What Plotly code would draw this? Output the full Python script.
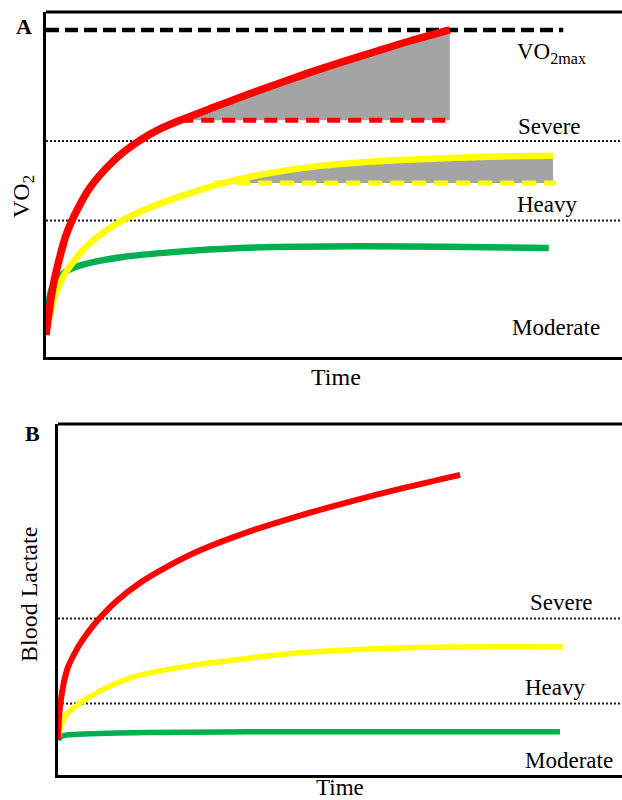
import plotly.graph_objects as go

W, H = 622, 800

# ---------------- Panel A: VO2 response (arbitrary units) ----------------
a_time_red = [0, 1.2, 2.4, 3.6, 5.4, 7.6, 10.6, 13.4, 16.3, 19.3, 23.3, 29.0,
              34.9, 40.6, 46.4, 51.6, 57.5, 63.2, 70.1]
a_vo2_red = [6.4, 20.3, 29.0, 35.9, 42.6, 49.0, 55.0, 59.3, 62.8, 65.7, 68.6,
             72.3, 76.0, 79.4, 82.8, 85.6, 88.7, 91.6, 94.8]
a_time_yellow = [0, 0.87, 1.74, 2.95, 4.69, 7.64, 13.37, 19.27, 25.0, 30.73,
                 37.15, 47.57, 61.46, 75.35, 88.02]
a_vo2_yellow = [7.0, 13.6, 18.6, 23.2, 27.5, 33.0, 39.7, 44.1, 47.5, 50.4,
                52.8, 55.4, 57.1, 58.0, 58.3]
a_time_green = [0, 0.52, 1.04, 1.91, 3.3, 4.69, 7.64, 13.37, 21.98, 33.68,
                54.0, 87.3]
a_vo2_green = [10.1, 16.5, 20.0, 22.6, 24.6, 25.8, 27.3, 29.0, 30.4, 31.6,
               32.1, 31.6]

a_vo2max = 94.8
a_vo2max_span = [0, 89.8]
a_red_base = 68.6            # level reached before the slow component
a_red_base_span = [23.3, 70.5]
a_yellow_base = 50.4
a_yellow_base_span = [29.2, 88.4]
a_thresholds = [39.6, 62.6]  # moderate/heavy, heavy/severe

# ---------------- Panel B: blood lactate (arbitrary units) ----------------
b_time_red = [0, 0.35, 1.6, 3.4, 5.4, 7.4, 10.5, 14.5, 19.3, 25.2, 34.0,
              42.9, 51.8, 60.6, 71.3]
b_lac_red = [10.0, 19.4, 29.9, 36.0, 40.8, 44.7, 49.7, 54.7, 59.3, 64.0,
             69.4, 73.9, 77.9, 81.5, 85.5]
b_time_yellow = [0, 0.53, 1.42, 3.9, 7.4, 13.3, 22.2, 34.0, 42.9, 60.6, 89.5]
b_lac_yellow = [10.0, 14.0, 17.1, 20.5, 23.9, 27.9, 30.8, 33.3, 34.8, 36.2,
                36.5]
b_time_green = [0, 0.7, 1.6, 10.5, 34.0, 89.0]
b_lac_green = [10.0, 11.1, 11.4, 12.0, 12.3, 12.3]
b_thresholds = [20.4, 44.6]

zone_labels = ["Moderate", "Heavy", "Severe"]

RED, YELLOW, GREEN = "#ff0000", "#ffff00", "#00b050"
GREY = "#a4a4a4"
FONT = "Liberation Serif, Times New Roman, serif"

fig = go.Figure()


def line(x, y, color, width, xa, ya, dash=None, shape="spline"):
    fig.add_trace(go.Scatter(
        x=x, y=y, mode="lines", xaxis=xa, yaxis=ya, hoverinfo="skip",
        line=dict(color=color, width=width, dash=dash, shape=shape),
        showlegend=False))


def slow_component(tx, vy, base, xa, ya):
    """Grey area between a curve and the level it had already reached."""
    pts = [(t, v) for t, v in zip(tx, vy) if v >= base - 0.3]
    t0, t1 = pts[0][0], pts[-1][0]
    fig.add_trace(go.Scatter(
        x=[t0, t1], y=[base, base], mode="lines", xaxis=xa, yaxis=ya,
        line=dict(width=0), hoverinfo="skip", showlegend=False))
    fig.add_trace(go.Scatter(
        x=[p[0] for p in pts], y=[p[1] for p in pts], mode="lines",
        xaxis=xa, yaxis=ya, fill="tonexty", fillcolor=GREY,
        line=dict(width=0, shape="spline"), hoverinfo="skip",
        showlegend=False))


# ---- Panel A
slow_component(a_time_red, a_vo2_red, a_red_base, "x", "y")
slow_component(a_time_yellow, a_vo2_yellow, a_yellow_base, "x", "y")
for thr in a_thresholds:
    line([0, 100], [thr, thr], "#1a1a1a", 2, "x", "y", dash="2px,2px",
         shape="linear")
line(a_vo2max_span, [a_vo2max] * 2, "black", 4.5, "x", "y",
     dash="13px,6px", shape="linear")
line(a_red_base_span, [a_red_base] * 2, RED, 5, "x", "y",
     dash="13px,8px", shape="linear")
line(a_yellow_base_span, [a_yellow_base] * 2, YELLOW, 5, "x", "y",
     dash="14px,8px", shape="linear")
line(a_time_green, a_vo2_green, GREEN, 6.5, "x", "y")
line(a_time_yellow, a_vo2_yellow, YELLOW, 6.5, "x", "y")
line(a_time_red, a_vo2_red, RED, 7.5, "x", "y")

# ---- Panel B
for thr in b_thresholds:
    line([0, 100], [thr, thr], "#1a1a1a", 2, "x2", "y2", dash="2px,2px",
         shape="linear")
line(b_time_green, b_lac_green, GREEN, 5.5, "x2", "y2")
line(b_time_yellow, b_lac_yellow, YELLOW, 5.5, "x2", "y2")
line(b_time_red, b_lac_red, RED, 6, "x2", "y2")

axis = dict(range=[0, 100], showgrid=False, zeroline=False, showticklabels=False,
            ticks="", showline=True, linecolor="black", linewidth=3,
            mirror=False, fixedrange=True)

fig.update_layout(
    width=W, height=H, margin=dict(l=0, r=0, t=0, b=0, pad=0),
    paper_bgcolor="white", plot_bgcolor="white", showlegend=False,
    xaxis=dict(axis, domain=[46 / W, 1], anchor="y"),
    yaxis=dict(axis, domain=[1 - 357 / H, 1 - 12 / H], anchor="x"),
    xaxis2=dict(axis, domain=[58 / W, 1], anchor="y2"),
    yaxis2=dict(axis, domain=[1 - 775 / H, 1 - 424 / H], anchor="x2"),
    shapes=[
        dict(type="line", xref="x domain", yref="y domain", x0=0, x1=1,
             y0=1, y1=1, line=dict(color="black", width=3)),
        dict(type="line", xref="x2 domain", yref="y2 domain", x0=0, x1=1,
             y0=1, y1=1, line=dict(color="black", width=3)),
    ],
)


def note(text, px, py, size=23, xanchor="center", angle=0):
    fig.add_annotation(
        text=text, x=px / W, y=1 - py / H, xref="paper", yref="paper",
        showarrow=False, xanchor=xanchor, yanchor="middle", textangle=angle,
        font=dict(family=FONT, size=size, color="black"))


# panel letters
note("<b>A</b>", 24, 27, size=22)
note("<b>B</b>", 32, 433, size=22)

# axis titles
note("Time", 336, 377, size=24)
note("Time", 340, 787, size=23)
note("VO<sub>2</sub>", 23, 197, size=24, angle=-90)
note("Blood Lactate", 29, 595, size=24, angle=-90)

# zone labels, panel A
note("VO<sub>2max</sub>", 515, 53, xanchor="left")
note(zone_labels[2], 516, 127, xanchor="left")
note(zone_labels[1], 515, 205, xanchor="left")
note(zone_labels[0], 510, 328, xanchor="left")

# zone labels, panel B
note(zone_labels[2], 528, 602, xanchor="left")
note(zone_labels[1], 523, 687, xanchor="left")
note(zone_labels[0], 523, 760, xanchor="left")

fig.write_html("out.html", config={"displayModeBar": False})
